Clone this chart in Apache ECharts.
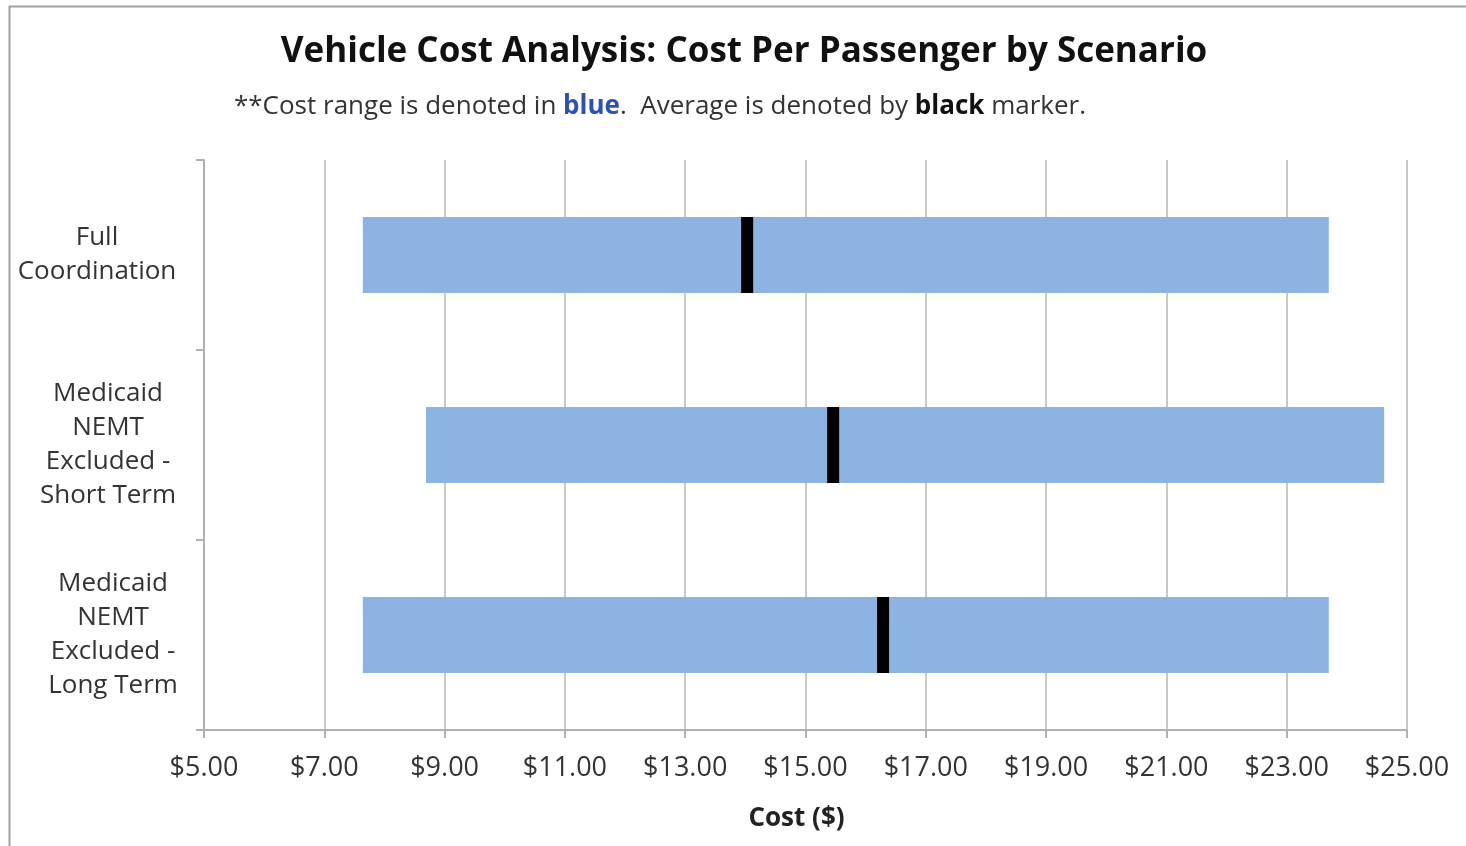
<!DOCTYPE html>
<html>
<head>
<meta charset="utf-8">
<script src="https://cdn.jsdelivr.net/npm/echarts@6/dist/echarts.min.js"></script>
<style>
html,body{margin:0;padding:0;background:#fff;}
#chart{width:1466px;height:846px;}
</style>
</head>
<body>
<div id="chart"></div>
<script>
const categories = ['Full Coordination', 'Medicaid NEMT Excluded - Short Term', 'Medicaid NEMT Excluded - Long Term'];
const categoryLabels = ['{f|Full}\n{f|Coordination}', '{s|Medicaid}\n{s|NEMT}\n{s|Excluded -}\n{s|Short Term}', '{l|Medicaid}\n{l|NEMT}\n{l|Excluded -}\n{l|Long Term}'];
const minCost = [7.64, 8.69, 7.64];
const maxCost = [23.70, 24.62, 23.70];
const avgCost = [14.03, 15.46, 16.29];
const xTicks = { min: 5, max: 25, interval: 2 };

const FONT = '"Open Sans", "Liberation Sans", sans-serif';
const chart = echarts.init(document.getElementById('chart'), null, { renderer: 'canvas' });

const rangeData = categories.map((c, i) => [i, minCost[i], maxCost[i]]);
const avgData = categories.map((c, i) => [i, avgCost[i]]);

const option = {
  backgroundColor: '#ffffff',
  animation: false,
  graphic: [{
    type: 'rect', left: 7, top: 4, silent: true,
    shape: { width: 1500, height: 900 },
    style: { fill: 'none', stroke: '#a0a0a0', lineWidth: 2 }
  }],
  title: [{
    text: 'Vehicle Cost Analysis: Cost Per Passenger by Scenario',
    left: 739, top: 30, textAlign: 'center',
    textStyle: { fontFamily: FONT, fontSize: 35, fontWeight: 'bold', color: '#111' }
  }, {
    text: '{n|**Cost range is denoted in }{b|blue}{n|.  Average is denoted by }{k|black}{n| marker.}',
    left: 655, top: 89, textAlign: 'center',
    textStyle: {
      fontFamily: FONT, fontSize: 26, fontWeight: 'normal',
      rich: {
        n: { fontFamily: FONT, fontSize: 26, color: '#333', fontWeight: 'normal' },
        b: { fontFamily: FONT, fontSize: 26, color: '#2e4fb5', fontWeight: 'bold' },
        k: { fontFamily: FONT, fontSize: 26, color: '#111', fontWeight: 'bold' }
      }
    }
  }],
  grid: { left: 204, right: 59, top: 160, bottom: 116, containLabel: false },
  xAxis: {
    type: 'value', min: xTicks.min, max: xTicks.max, interval: xTicks.interval,
    name: 'Cost ($)', nameLocation: 'middle', nameGap: 76,
    nameTextStyle: { fontFamily: FONT, fontSize: 26, fontWeight: 'bold', color: '#222', padding: [0, 18, 0, 0] },
    axisLine: { show: true, lineStyle: { color: '#b0b0b0', width: 2 } },
    axisTick: { show: true, length: 8, lineStyle: { color: '#b0b0b0', width: 2 } },
    axisLabel: { margin: 25, fontFamily: FONT, fontSize: 27, color: '#333', formatter: v => '$' + v.toFixed(2) },
    splitLine: { show: true, lineStyle: { color: '#c8c8c8', width: 2 } }
  },
  yAxis: {
    type: 'category', data: categories, inverse: true,
    axisLine: { show: true, lineStyle: { color: '#b0b0b0', width: 2 } },
    axisTick: { show: true, length: 8, lineStyle: { color: '#b0b0b0', width: 2 } },
    axisLabel: {
      margin: 91, align: 'center', lineHeight: 34,
      formatter: (v, i) => categoryLabels[i],
      rich: {
        f: { fontFamily: FONT, fontSize: 26, color: '#333', lineHeight: 34, align: 'center', padding: [0, 32, 0, 0] },
        s: { fontFamily: FONT, fontSize: 26, color: '#333', lineHeight: 34, align: 'center', padding: [0, 10, 0, 0] },
        l: { fontFamily: FONT, fontSize: 26, color: '#333', lineHeight: 34, align: 'center' }
      }
    },
    splitLine: { show: false }
  },
  series: [{
    name: 'Cost range', type: 'custom',
    encode: { y: 0, x: [1, 2] },
    data: rangeData,
    renderItem: function (params, api) {
      const y = api.value(0);
      const p0 = api.coord([api.value(1), y]);
      const p1 = api.coord([api.value(2), y]);
      const h = api.size([0, 1])[1] * 0.4;
      return {
        type: 'rect',
        shape: { x: p0[0], y: p0[1] - h / 2, width: p1[0] - p0[0], height: h },
        style: { fill: '#8db3e2' }
      };
    }
  }, {
    name: 'Average', type: 'custom',
    encode: { y: 0, x: 1 },
    data: avgData, z: 3,
    renderItem: function (params, api) {
      const p = api.coord([api.value(1), api.value(0)]);
      const h = api.size([0, 1])[1] * 0.4;
      const w = 12;
      return {
        type: 'rect',
        shape: { x: p[0] - w / 2, y: p[1] - h / 2, width: w, height: h },
        style: { fill: '#000' }
      };
    }
  }]
};
chart.setOption(option);
</script>
</body>
</html>
